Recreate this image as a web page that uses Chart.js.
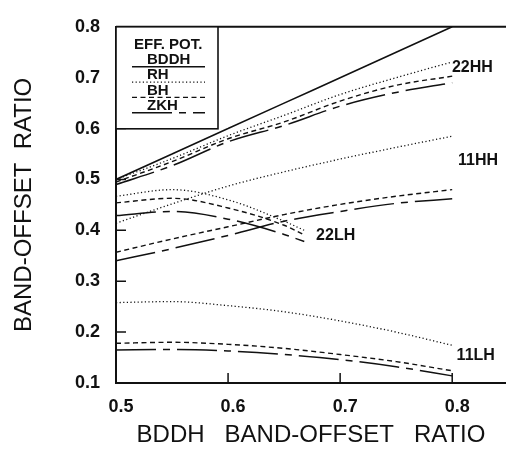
<!DOCTYPE html>
<html>
<head>
<meta charset="utf-8">
<script src="https://cdn.jsdelivr.net/npm/chart.js@4.4.1/dist/chart.umd.min.js"></script>
<style>
  html, body { margin: 0; padding: 0; background: #fff; }
  #wrap { width: 506px; height: 450px; }
</style>
</head>
<body>
<div id="wrap"><canvas id="offsetChart" width="506" height="450"></canvas></div>
<script>
// x values (BDDH band-offset ratio)
const xFull = [0.5, 0.55, 0.6, 0.65, 0.7, 0.75, 0.8];
const xShort = [0.5, 0.55, 0.6, 0.65, 0.668];

// BDDH is the reference, so it is the diagonal
const bddh = [0.5, 0.55, 0.6, 0.65, 0.7, 0.75, 0.8];

const hh22Rh = [0.500, 0.541, 0.586, 0.626, 0.667, 0.700, 0.731];
const hh22Bh = [0.495, 0.535, 0.580, 0.613, 0.654, 0.685, 0.703];
const hh22Zkh = [0.490, 0.527, 0.574, 0.606, 0.644, 0.671, 0.690];

const hh11Rh = [0.414, 0.452, 0.487, 0.515, 0.540, 0.563, 0.585];
const hh11Bh = [0.357, 0.383, 0.407, 0.431, 0.451, 0.467, 0.480];
const hh11Zkh = [0.340, 0.364, 0.390, 0.418, 0.437, 0.453, 0.462];

const lh22Rh = [0.467, 0.480, 0.460, 0.418, 0.400];
const lh22Bh = [0.454, 0.463, 0.444, 0.410, 0.391];
const lh22Zkh = [0.429, 0.437, 0.422, 0.392, 0.378];

const lh11Rh = [0.258, 0.260, 0.252, 0.240, 0.222, 0.200, 0.174];
const lh11Bh = [0.178, 0.180, 0.176, 0.168, 0.156, 0.142, 0.124];
const lh11Zkh = [0.165, 0.166, 0.163, 0.156, 0.146, 0.132, 0.114];

const xTicks = [0.5, 0.6, 0.7, 0.8];
const yTicks = [0.1, 0.2, 0.3, 0.4, 0.5, 0.6, 0.7, 0.8];

const legendNames = ["BDDH", "RH", "BH", "ZKH"];
const curveLabels = [
  { text: "22HH", x: 0.818, y: 0.72 },
  { text: "11HH", x: 0.823, y: 0.537 },
  { text: "22LH", x: 0.696, y: 0.389 },
  { text: "11LH", x: 0.821, y: 0.153 },
];

const INK = "#111";
const FONT = "'Liberation Sans', Arial, Helvetica, sans-serif";
const NARROW = "'Liberation Sans Narrow', 'Liberation Sans', Arial, sans-serif";

const STYLE = {
  BDDH: { dash: [], width: 1.6 },
  RH: { dash: [1.2, 2.4], width: 1.3 },
  BH: { dash: [5, 3.5], width: 1.4 },
  ZKH: { dash: [40, 7, 7, 7], width: 1.5 },
};

function makeSet(name, xs, ys) {
  return {
    label: name,
    data: xs.map((x, i) => ({ x: x, y: ys[i] })),
    borderColor: INK,
    borderWidth: STYLE[name].width,
    borderDash: STYLE[name].dash,
    pointRadius: 0,
    cubicInterpolationMode: "monotone",
    fill: false,
  };
}

const datasets = [
  makeSet("BDDH", xFull, bddh),
  makeSet("RH", xFull, hh22Rh),
  makeSet("BH", xFull, hh22Bh),
  makeSet("ZKH", xFull, hh22Zkh),
  makeSet("RH", xFull, hh11Rh),
  makeSet("BH", xFull, hh11Bh),
  makeSet("ZKH", xFull, hh11Zkh),
  makeSet("RH", xShort, lh22Rh),
  makeSet("BH", xShort, lh22Bh),
  makeSet("ZKH", xShort, lh22Zkh),
  makeSet("RH", xFull, lh11Rh),
  makeSet("BH", xFull, lh11Bh),
  makeSet("ZKH", xFull, lh11Zkh),
];

// frame top line, inward ticks, the boxed key and the curve labels
const decorations = {
  id: "decorations",
  afterDatasetsDraw(chart) {
    const { ctx, chartArea: a, scales } = chart;
    ctx.save();
    ctx.strokeStyle = INK;
    ctx.lineWidth = 2;
    ctx.beginPath();
    ctx.moveTo(a.left, a.top);
    ctx.lineTo(a.right, a.top);
    ctx.stroke();

    ctx.lineWidth = 1.5;
    ctx.beginPath();
    xTicks.slice(1).forEach((v) => {
      const px = scales.x.getPixelForValue(v);
      ctx.moveTo(px, a.bottom);
      ctx.lineTo(px, a.bottom - 10);
    });
    yTicks.slice(1, -1).forEach((v) => {
      const py = scales.y.getPixelForValue(v);
      ctx.moveTo(a.left, py);
      ctx.lineTo(a.left + 10, py);
    });
    ctx.stroke();

    // key box
    const bx = a.left, by = a.top, bw = 102, bh = 102;
    ctx.fillStyle = "#fff";
    ctx.fillRect(bx, by, bw, bh);
    ctx.lineWidth = 1.6;
    ctx.strokeRect(bx, by, bw, bh);

    ctx.fillStyle = INK;
    ctx.font = "bold 15px " + FONT;
    ctx.textBaseline = "middle";
    ctx.textAlign = "left";
    ctx.fillText("EFF. POT.", bx + 18, by + 18);
    legendNames.forEach((name, i) => {
      const ty = by + 33 + i * 15.3;
      ctx.fillText(name, bx + 31, ty);
      ctx.setLineDash(STYLE[name].dash);
      ctx.lineWidth = STYLE[name].width;
      ctx.beginPath();
      ctx.moveTo(bx + 16, ty + 7);
      ctx.lineTo(bx + 89, ty + 7);
      ctx.stroke();
    });
    ctx.setLineDash([]);

    ctx.font = "bold 16px " + NARROW;
    ctx.textAlign = "center";
    curveLabels.forEach((l) => {
      ctx.fillText(l.text, scales.x.getPixelForValue(l.x), scales.y.getPixelForValue(l.y));
    });
    ctx.restore();
  },
};

new Chart(document.getElementById("offsetChart").getContext("2d"), {
  type: "line",
  data: { datasets: datasets },
  plugins: [decorations],
  options: {
    responsive: false,
    maintainAspectRatio: false,
    animation: false,
    layout: { padding: { left: 0, right: 0, top: 15, bottom: 0 } },
    plugins: {
      legend: { display: false },
      tooltip: { enabled: false },
    },
    scales: {
      x: {
        type: "linear",
        min: 0.5,
        max: 0.848,
        afterBuildTicks: (s) => { s.ticks = xTicks.map((v) => ({ value: v })); },
        afterFit: (s) => { s.height = 67; },
        grid: { display: false, drawTicks: false },
        border: { display: true, color: INK, width: 2 },
        ticks: {
          color: INK,
          padding: 13,
          labelOffset: 5,
          maxRotation: 0,
          font: { family: FONT, size: 18, weight: "bold" },
          callback: (v) => v.toFixed(1),
        },
        title: {
          display: true,
          text: "BDDH   BAND-OFFSET   RATIO",
          color: INK,
          padding: { top: 0, bottom: 0 },
          font: { family: FONT, size: 24 },
        },
      },
      y: {
        type: "linear",
        min: 0.1,
        max: 0.8,
        afterBuildTicks: (s) => { s.ticks = yTicks.map((v) => ({ value: v })); },
        afterFit: (s) => { s.width = 116; },
        grid: { display: false, drawTicks: false },
        border: { display: true, color: INK, width: 2 },
        ticks: {
          color: INK,
          padding: 16,
          font: { family: FONT, size: 18, weight: "bold" },
          callback: (v) => v.toFixed(1),
        },
        title: {
          display: true,
          text: "BAND-OFFSET  RATIO",
          color: INK,
          padding: { top: 10, bottom: 0 },
          font: { family: FONT, size: 24 },
        },
      },
    },
  },
});
</script>
</body>
</html>
